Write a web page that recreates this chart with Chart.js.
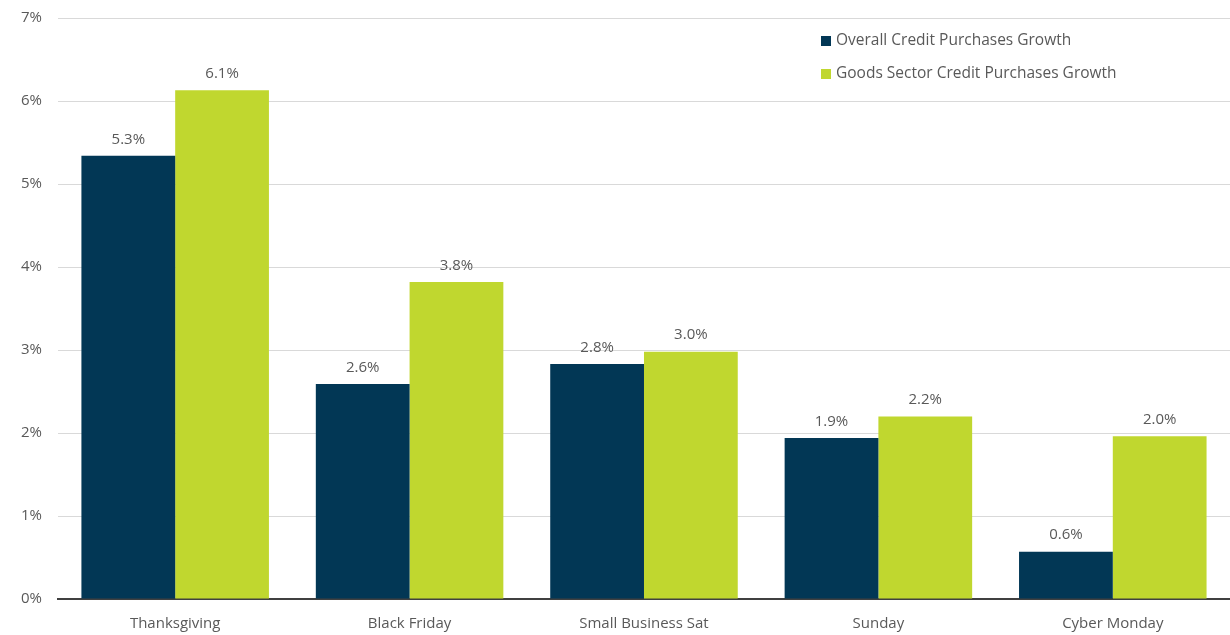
<!DOCTYPE html>
<html lang="en">
<head>
  <meta charset="UTF-8">
  <title>Holiday Credit Purchases Growth</title>
  <style>
    body {
      margin: 0;
      background: #ffffff;
      font-family: "Open Sans", Arial, sans-serif;
    }
    .wrap {
      position: relative;
      width: 1230px;
      height: 635px;
    }
    #legend {
      position: absolute;
      left: 821px;
      top: 28px;
      font-size: 15.5px;
      color: #595959;
    }
    #legend div {
      height: 33px;
      line-height: 22px;
      white-space: nowrap;
    }
    #legend span.box {
      display: inline-block;
      width: 10px;
      height: 10px;
      margin-right: 5px;
      vertical-align: -1px;
    }
  </style>
</head>
<body>
  <div class="wrap">
    <canvas id="chart" width="1230" height="635"></canvas>
    <div id="legend"></div>
  </div>

  <script src="https://cdn.jsdelivr.net/npm/chart.js"></script>
  <script>
    // values (percent)
    const categories = ['Thanksgiving', 'Black Friday', 'Small Business Sat', 'Sunday', 'Cyber Monday'];
    const seriesNames = ['Overall Credit Purchases Growth', 'Goods Sector Credit Purchases Growth'];
    const overallGrowth = [5.34, 2.59, 2.83, 1.94, 0.57];
    const goodsGrowth = [6.13, 3.82, 2.98, 2.20, 1.96];
    const yTicks = [0, 1, 2, 3, 4, 5, 6, 7];

    const navy = '#023755';
    const lime = '#c0d72f';
    const textColor = '#595959';
    const font = '"Open Sans", Arial, sans-serif';

    // value labels above bars
    const barLabels = {
      id: 'barLabels',
      afterDatasetsDraw(chart) {
        const c = chart.ctx;
        c.save();
        c.font = '15px ' + font;
        c.fillStyle = textColor;
        c.textAlign = 'center';
        c.textBaseline = 'bottom';
        chart.data.datasets.forEach((ds, i) => {
          chart.getDatasetMeta(i).data.forEach((bar, j) => {
            c.fillText(ds.data[j].toFixed(1) + '%', bar.x, bar.y - 9);
          });
        });
        c.restore();
      }
    };

    const ctx = document.getElementById('chart').getContext('2d');
    new Chart(ctx, {
      type: 'bar',
      data: {
        labels: categories,
        datasets: [
          { label: seriesNames[0], data: overallGrowth, backgroundColor: navy },
          { label: seriesNames[1], data: goodsGrowth, backgroundColor: lime }
        ]
      },
      options: {
        responsive: false,
        animation: false,
        layout: { padding: { left: 5, right: 0, top: 18, bottom: -6 } },
        datasets: {
          bar: { categoryPercentage: 0.8, barPercentage: 1.0 }
        },
        plugins: {
          legend: { display: false },
          tooltip: { enabled: false }
        },
        scales: {
          x: {
            grid: { display: false },
            border: { color: '#404040', width: 2 },
            ticks: {
              color: textColor,
              font: { size: 15, family: font },
              padding: 8
            }
          },
          y: {
            min: 0,
            max: 7,
            afterBuildTicks(scale) {
              scale.ticks = yTicks.map(v => ({ value: v }));
            },
            afterFit(scale) {
              // let the top gridline sit at the layout padding
              scale.paddingTop = 0;
            },
            grid: {
              color: '#d9d9d9',
              lineWidth: 1,
              drawTicks: false
            },
            border: { display: false },
            ticks: {
              color: textColor,
              font: { size: 15, family: font },
              padding: 16,
              callback: v => v + '%'
            }
          }
        }
      },
      plugins: [barLabels]
    });

    // legend (vertical, top right)
    const legend = document.getElementById('legend');
    [navy, lime].forEach((col, i) => {
      const row = document.createElement('div');
      const box = document.createElement('span');
      box.className = 'box';
      box.style.background = col;
      row.appendChild(box);
      row.appendChild(document.createTextNode(seriesNames[i]));
      legend.appendChild(row);
    });
  </script>
</body>
</html>
